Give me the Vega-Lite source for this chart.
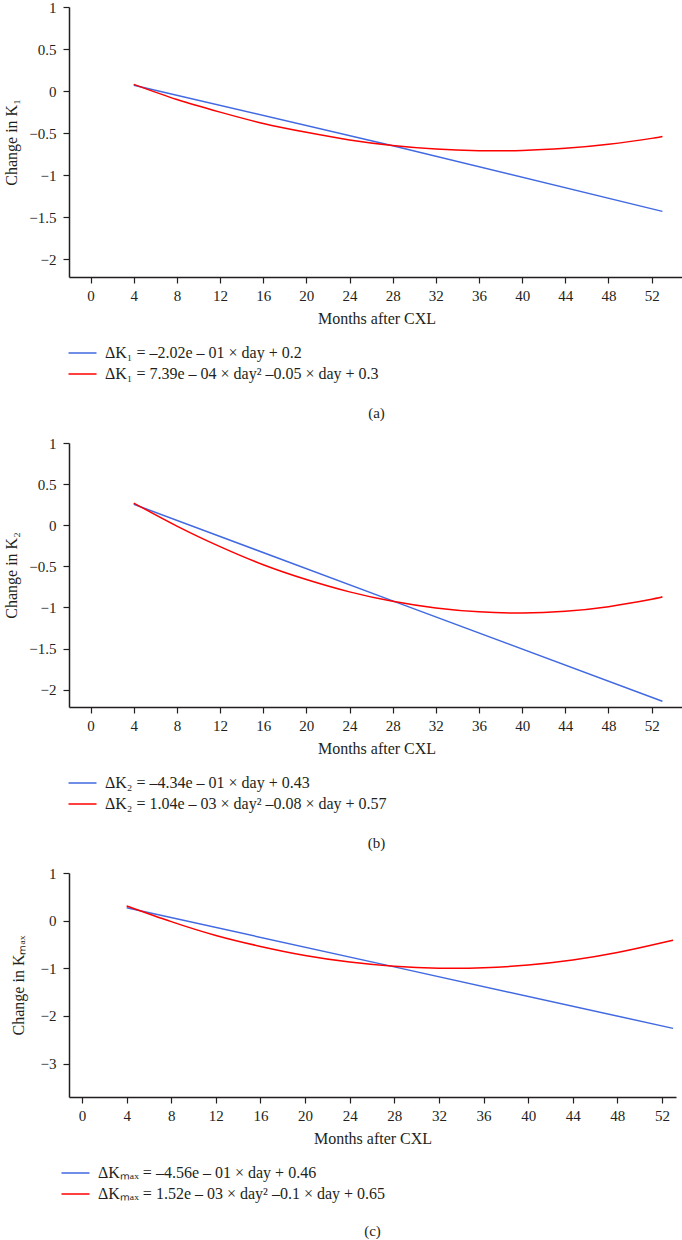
{
  "$schema": "https://vega.github.io/schema/vega-lite/v6.json",
  "padding": {"left": 3, "top": 0, "right": 0, "bottom": 0},
  "background": "white",
  "columns": 1,
  "align": "none",
  "spacing": 15,
  "config": {
    "view": {"stroke": null},
    "font": "Liberation Serif",
    "axis": {
      "grid": false,
      "domainColor": "#231f20",
      "domainWidth": 1.5,
      "tickColor": "#231f20",
      "tickWidth": 1.2,
      "tickSize": 6,
      "labelFont": "Liberation Serif",
      "labelFontSize": 15,
      "labelColor": "#231f20",
      "titleFont": "Liberation Serif",
      "titleFontSize": 16,
      "titleFontWeight": "normal",
      "titleColor": "#231f20"
    },
    "legend": {
      "orient": "none",
      "legendX": -5,
      "title": null,
      "padding": 0,
      "rowPadding": 5,
      "symbolType": "M-1,0H7",
      "symbolSize": 49,
      "symbolStrokeWidth": 1.5,
      "labelOffset": 25,
      "labelFont": "Liberation Serif",
      "labelFontSize": 16,
      "labelColor": "#231f20",
      "labelLimit": 0
    },
    "title": {"font": "Liberation Serif", "fontSize": 15, "fontWeight": "normal", "color": "#231f20", "orient": "bottom", "anchor": "middle", "offset": 24}
  },
  "resolve": {"scale": {"color": "independent"}},
  "datasets": {
    "k1": [
      {"month": 4, "value": 0.07, "fit": "ΔK₁ = –2.02e – 01 × day + 0.2"},
      {"month": 28, "value": -0.65, "fit": "ΔK₁ = –2.02e – 01 × day + 0.2"},
      {"month": 53, "value": -1.43, "fit": "ΔK₁ = –2.02e – 01 × day + 0.2"},
      {"month": 4, "value": 0.08, "fit": "ΔK₁ = 7.39e – 04 × day² –0.05 × day + 0.3"},
      {"month": 8, "value": -0.1, "fit": "ΔK₁ = 7.39e – 04 × day² –0.05 × day + 0.3"},
      {"month": 12, "value": -0.25, "fit": "ΔK₁ = 7.39e – 04 × day² –0.05 × day + 0.3"},
      {"month": 16, "value": -0.385, "fit": "ΔK₁ = 7.39e – 04 × day² –0.05 × day + 0.3"},
      {"month": 20, "value": -0.49, "fit": "ΔK₁ = 7.39e – 04 × day² –0.05 × day + 0.3"},
      {"month": 24, "value": -0.58, "fit": "ΔK₁ = 7.39e – 04 × day² –0.05 × day + 0.3"},
      {"month": 28, "value": -0.646, "fit": "ΔK₁ = 7.39e – 04 × day² –0.05 × day + 0.3"},
      {"month": 32, "value": -0.689, "fit": "ΔK₁ = 7.39e – 04 × day² –0.05 × day + 0.3"},
      {"month": 36, "value": -0.708, "fit": "ΔK₁ = 7.39e – 04 × day² –0.05 × day + 0.3"},
      {"month": 40, "value": -0.706, "fit": "ΔK₁ = 7.39e – 04 × day² –0.05 × day + 0.3"},
      {"month": 44, "value": -0.68, "fit": "ΔK₁ = 7.39e – 04 × day² –0.05 × day + 0.3"},
      {"month": 48, "value": -0.632, "fit": "ΔK₁ = 7.39e – 04 × day² –0.05 × day + 0.3"},
      {"month": 52, "value": -0.562, "fit": "ΔK₁ = 7.39e – 04 × day² –0.05 × day + 0.3"},
      {"month": 53, "value": -0.54, "fit": "ΔK₁ = 7.39e – 04 × day² –0.05 × day + 0.3"}
    ],
    "k2": [
      {"month": 4, "value": 0.255, "fit": "ΔK₂ = –4.34e – 01 × day + 0.43"},
      {"month": 28, "value": -0.92, "fit": "ΔK₂ = –4.34e – 01 × day + 0.43"},
      {"month": 53, "value": -2.14, "fit": "ΔK₂ = –4.34e – 01 × day + 0.43"},
      {"month": 4, "value": 0.27, "fit": "ΔK₂ = 1.04e – 03 × day² –0.08 × day + 0.57"},
      {"month": 8, "value": -0.01, "fit": "ΔK₂ = 1.04e – 03 × day² –0.08 × day + 0.57"},
      {"month": 12, "value": -0.26, "fit": "ΔK₂ = 1.04e – 03 × day² –0.08 × day + 0.57"},
      {"month": 16, "value": -0.48, "fit": "ΔK₂ = 1.04e – 03 × day² –0.08 × day + 0.57"},
      {"month": 20, "value": -0.66, "fit": "ΔK₂ = 1.04e – 03 × day² –0.08 × day + 0.57"},
      {"month": 24, "value": -0.81, "fit": "ΔK₂ = 1.04e – 03 × day² –0.08 × day + 0.57"},
      {"month": 28, "value": -0.925, "fit": "ΔK₂ = 1.04e – 03 × day² –0.08 × day + 0.57"},
      {"month": 32, "value": -1.006, "fit": "ΔK₂ = 1.04e – 03 × day² –0.08 × day + 0.57"},
      {"month": 36, "value": -1.053, "fit": "ΔK₂ = 1.04e – 03 × day² –0.08 × day + 0.57"},
      {"month": 40, "value": -1.066, "fit": "ΔK₂ = 1.04e – 03 × day² –0.08 × day + 0.57"},
      {"month": 44, "value": -1.045, "fit": "ΔK₂ = 1.04e – 03 × day² –0.08 × day + 0.57"},
      {"month": 48, "value": -0.99, "fit": "ΔK₂ = 1.04e – 03 × day² –0.08 × day + 0.57"},
      {"month": 52, "value": -0.9, "fit": "ΔK₂ = 1.04e – 03 × day² –0.08 × day + 0.57"},
      {"month": 53, "value": -0.87, "fit": "ΔK₂ = 1.04e – 03 × day² –0.08 × day + 0.57"}
    ],
    "kmax": [
      {"month": 4, "value": 0.27, "fit": "ΔKₘₐₓ = –4.56e – 01 × day + 0.46"},
      {"month": 28, "value": -0.97, "fit": "ΔKₘₐₓ = –4.56e – 01 × day + 0.46"},
      {"month": 53, "value": -2.26, "fit": "ΔKₘₐₓ = –4.56e – 01 × day + 0.46"},
      {"month": 4, "value": 0.31, "fit": "ΔKₘₐₓ = 1.52e – 03 × day² –0.1 × day + 0.65"},
      {"month": 8, "value": -0.02, "fit": "ΔKₘₐₓ = 1.52e – 03 × day² –0.1 × day + 0.65"},
      {"month": 12, "value": -0.31, "fit": "ΔKₘₐₓ = 1.52e – 03 × day² –0.1 × day + 0.65"},
      {"month": 16, "value": -0.54, "fit": "ΔKₘₐₓ = 1.52e – 03 × day² –0.1 × day + 0.65"},
      {"month": 20, "value": -0.73, "fit": "ΔKₘₐₓ = 1.52e – 03 × day² –0.1 × day + 0.65"},
      {"month": 24, "value": -0.868, "fit": "ΔKₘₐₓ = 1.52e – 03 × day² –0.1 × day + 0.65"},
      {"month": 28, "value": -0.957, "fit": "ΔKₘₐₓ = 1.52e – 03 × day² –0.1 × day + 0.65"},
      {"month": 32, "value": -0.997, "fit": "ΔKₘₐₓ = 1.52e – 03 × day² –0.1 × day + 0.65"},
      {"month": 36, "value": -0.989, "fit": "ΔKₘₐₓ = 1.52e – 03 × day² –0.1 × day + 0.65"},
      {"month": 40, "value": -0.931, "fit": "ΔKₘₐₓ = 1.52e – 03 × day² –0.1 × day + 0.65"},
      {"month": 44, "value": -0.825, "fit": "ΔKₘₐₓ = 1.52e – 03 × day² –0.1 × day + 0.65"},
      {"month": 48, "value": -0.67, "fit": "ΔKₘₐₓ = 1.52e – 03 × day² –0.1 × day + 0.65"},
      {"month": 52, "value": -0.465, "fit": "ΔKₘₐₓ = 1.52e – 03 × day² –0.1 × day + 0.65"},
      {"month": 53, "value": -0.41, "fit": "ΔKₘₐₓ = 1.52e – 03 × day² –0.1 × day + 0.65"}
    ]
  },
  "concat": [
    {
      "title": "(a)",
      "width": 615,
      "height": 270,
      "data": {"name": "k1"},
      "mark": {"type": "line", "strokeWidth": 1.5, "interpolate": "natural"},
      "encoding": {
        "x": {"field": "month", "type": "quantitative", "title": "Months after CXL",
          "scale": {"domain": [-2, 55], "nice": false, "zero": false},
          "axis": {"values": [0, 4, 8, 12, 16, 20, 24, 28, 32, 36, 40, 44, 48, 52], "labelPadding": 5, "titlePadding": 7}},
        "y": {"field": "value", "type": "quantitative", "title": "Change in K₁",
          "scale": {"domain": [-2.21, 1], "nice": false, "zero": false},
          "axis": {"values": [1, 0.5, 0, -0.5, -1, -1.5, -2], "format": "~g", "labelPadding": 7, "titlePadding": 9}},
        "color": {"field": "fit", "type": "nominal",
          "scale": {"domain": ["ΔK₁ = –2.02e – 01 × day + 0.2", "ΔK₁ = 7.39e – 04 × day² –0.05 × day + 0.3"], "range": ["#4169e1", "#ff0000"]},
          "legend": {"legendY": 338}}
      }
    },
    {
      "title": "(b)",
      "width": 615,
      "height": 264,
      "data": {"name": "k2"},
      "mark": {"type": "line", "strokeWidth": 1.5, "interpolate": "natural"},
      "encoding": {
        "x": {"field": "month", "type": "quantitative", "title": "Months after CXL",
          "scale": {"domain": [-2, 55], "nice": false, "zero": false},
          "axis": {"values": [0, 4, 8, 12, 16, 20, 24, 28, 32, 36, 40, 44, 48, 52], "labelPadding": 5, "titlePadding": 7}},
        "y": {"field": "value", "type": "quantitative", "title": "Change in K₂",
          "scale": {"domain": [-2.21, 1], "nice": false, "zero": false},
          "axis": {"values": [1, 0.5, 0, -0.5, -1, -1.5, -2], "format": "~g", "labelPadding": 7, "titlePadding": 9}},
        "color": {"field": "fit", "type": "nominal",
          "scale": {"domain": ["ΔK₂ = –4.34e – 01 × day + 0.43", "ΔK₂ = 1.04e – 03 × day² –0.08 × day + 0.57"], "range": ["#4169e1", "#ff0000"]},
          "legend": {"legendY": 332}}
      }
    },
    {
      "title": {"text": "(c)", "offset": 22},
      "width": 607,
      "height": 224,
      "data": {"name": "kmax"},
      "mark": {"type": "line", "strokeWidth": 1.5, "interpolate": "natural"},
      "encoding": {
        "x": {"field": "month", "type": "quantitative", "title": "Months after CXL",
          "scale": {"domain": [-1.17, 53.26], "nice": false, "zero": false},
          "axis": {"values": [0, 4, 8, 12, 16, 20, 24, 28, 32, 36, 40, 44, 48, 52], "labelPadding": 5, "titlePadding": 7}},
        "y": {"field": "value", "type": "quantitative", "title": "Change in Kₘₐₓ",
          "scale": {"domain": [-3.7, 1], "nice": false, "zero": false},
          "axis": {"values": [1, 0, -1, -2, -3], "format": "~g", "labelPadding": 7, "titlePadding": 14}},
        "color": {"field": "fit", "type": "nominal",
          "scale": {"domain": ["ΔKₘₐₓ = –4.56e – 01 × day + 0.46", "ΔKₘₐₓ = 1.52e – 03 × day² –0.1 × day + 0.65"], "range": ["#4169e1", "#ff0000"]},
          "legend": {"legendY": 292, "legendX": -12}}
      }
    }
  ]
}
